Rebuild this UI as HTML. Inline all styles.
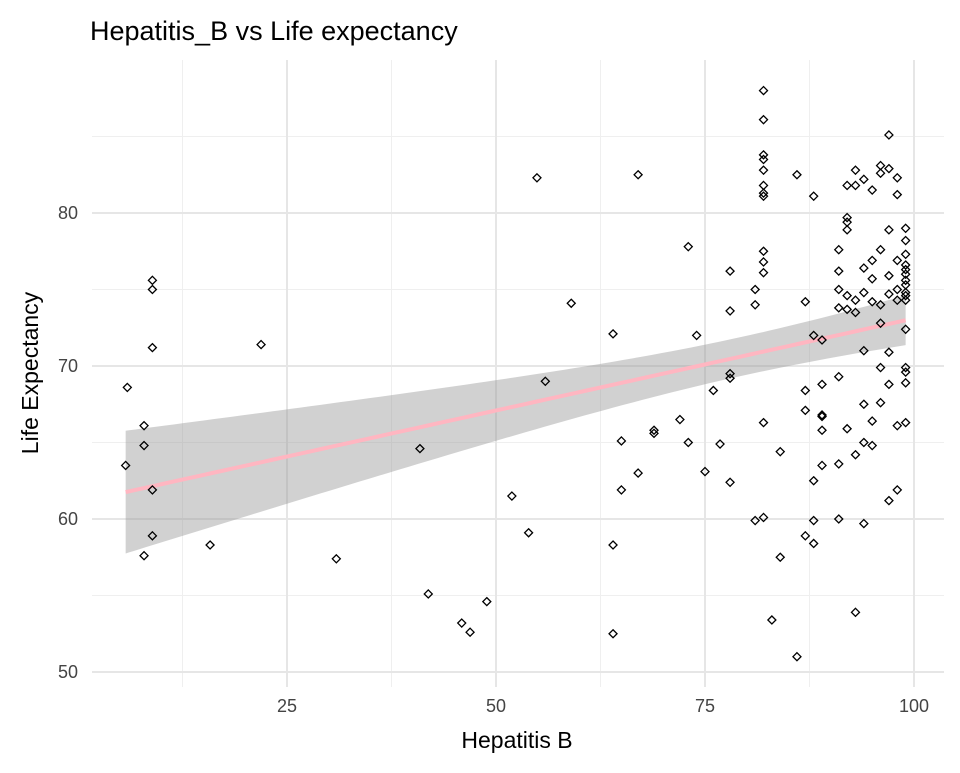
<!DOCTYPE html>
<html><head><meta charset="utf-8"><style>
body{margin:0;background:#fff;font-family:"Liberation Sans",sans-serif}
</style></head><body>
<svg id="chart" width="960" height="768" xmlns="http://www.w3.org/2000/svg" font-family="Liberation Sans, sans-serif">
<text x="90" y="40" font-size="27" fill="#000">Hepatitis_B vs Life expectancy</text>
<g id="grid"></g><g id="band"></g><g id="pts"></g><g id="axes"></g>
<text x="517" y="748" font-size="23" text-anchor="middle">Hepatitis B</text>
<text transform="translate(38,373) rotate(-90)" font-size="23" text-anchor="middle">Life Expectancy</text>
</svg>
<script>
const xTicks=[25,50,75,100];
const xMinor=[12.5,37.5,62.5,87.5];
const yTicks=[50,60,70,80];
const yMinor=[55,65,75,85];
const hepB=[5.9,5.7,7.9,7.9,7.9,8.9,8.9,8.9,8.9,8.9,15.8,21.9,30.9,40.9,41.9,45.9,46.9,48.9,51.9,53.9,54.9,55.9,59,64,64,64,65,65,67,67,68.9,68.9,72,73,73,74,75,76,76.8,78,78,78,78,78,81,81,81,82,82,82,82,82,82,82,82,82,82,82,82,82,83,84,84,86,86,87,87,87,87,88,88,88,88,88,89,89,89,89,89,89,91,91,91,91,91,91,91,92,92,92,92,92,92,92,93,93,93,93,93,93,94,94,94,94,94,94,94,95,95,95,95,95,95,96,96,96,96,96,96,97,97,97,97,97,97,97,98,98,98,98,98,98,99,99,99,99,99,99,99,99,99,99,99,99,99,99,99,99,98,97,96];
const lifeExp=[68.6,63.5,66.1,64.8,57.6,75.6,75.0,71.2,61.9,58.9,58.3,71.4,57.4,64.6,55.1,53.2,52.6,54.6,61.5,59.1,82.3,69.0,74.1,72.1,58.3,52.5,65.1,61.9,82.5,63.0,65.8,65.6,66.5,77.8,65.0,72.0,63.1,68.4,64.9,76.2,73.6,69.5,69.2,62.4,75.0,74.0,59.9,88.0,86.1,83.8,83.5,82.8,81.8,81.3,81.1,77.5,76.8,76.1,66.3,60.1,53.4,64.4,57.5,82.5,51.0,74.2,68.4,67.1,58.9,81.1,72.0,62.5,59.9,58.4,71.7,68.8,66.8,66.7,65.8,63.5,77.6,76.2,75.0,73.8,69.3,63.6,60.0,81.8,79.7,79.4,78.9,74.6,73.7,65.9,82.8,81.8,74.3,73.5,64.2,53.9,82.2,76.4,74.8,71.0,67.5,65.0,59.7,81.5,76.9,75.7,74.2,66.4,64.8,83.1,82.6,77.6,72.8,69.9,67.6,85.1,82.9,78.9,75.9,70.9,68.8,61.2,82.3,81.2,76.9,74.3,66.1,61.9,79.0,78.2,77.3,76.6,76.0,75.3,74.8,74.3,72.4,69.9,69.6,68.9,66.3,75.6,74.6,76.3,75.0,74.7,74.0];
const L=92,R=944,T=60,B=687;
const X=v=>78+v*8.36, Y=v=>213-(v-80)*15.3;
const NS="http://www.w3.org/2000/svg";
function mk(t,a,p){const e=document.createElementNS(NS,t);for(const k in a)e.setAttribute(k,a[k]);p.appendChild(e);return e;}
const grid=document.getElementById('grid'),axes=document.getElementById('axes');
xMinor.forEach(v=>{const l=mk('line',{x1:X(v),x2:X(v),y1:T,y2:B,stroke:'#efefef','stroke-width':1},grid);

});
yMinor.forEach(v=>{const l=mk('line',{x1:L,x2:R,y1:Y(v),y2:Y(v),stroke:'#efefef','stroke-width':1},grid);

});
xTicks.forEach(v=>{const l=mk('line',{x1:X(v),x2:X(v),y1:T,y2:B,stroke:'#e6e6e6','stroke-width':2},grid);


const t=mk('text',{x:X(v),y:712,'font-size':18,fill:'#444','text-anchor':'middle'},axes);t.textContent=v;

});
yTicks.forEach(v=>{const l=mk('line',{x1:L,x2:R,y1:Y(v),y2:Y(v),stroke:'#e6e6e6','stroke-width':2},grid);


const t=mk('text',{x:78,y:Y(v)+6,'font-size':18,fill:'#444','text-anchor':'end'},axes);t.textContent=v;

});
const n=hepB.length,mx=hepB.reduce((a,b)=>a+b)/n,my=lifeExp.reduce((a,b)=>a+b)/n;
let sxx=0,sxy=0;for(let i=0;i<n;i++){sxx+=(hepB[i]-mx)**2;sxy+=(hepB[i]-mx)*(lifeExp[i]-my);}
const b1=sxy/sxx,b0=my-b1*mx;let sse=0;for(let i=0;i<n;i++)sse+=(lifeExp[i]-b0-b1*hepB[i])**2;
const s=Math.sqrt(sse/(n-2));
const x0=Math.min(...hepB),x1=Math.max(...hepB);const up=[],lo=[],ln=[];
for(let k=0;k<=80;k++){const xv=x0+(x1-x0)*k/80,yv=b0+b1*xv,se=1.976*s*Math.sqrt(1/n+(xv-mx)**2/sxx);
up.push(X(xv)+','+Y(yv+se));lo.unshift(X(xv)+','+Y(yv-se));ln.push(X(xv)+','+Y(yv));}
const band=document.getElementById('band');
const poly=mk('polygon',{points:up.concat(lo).join(' '),fill:'#999','fill-opacity':0.45},band);


const pl=mk('polyline',{points:ln.join(' '),fill:'none',stroke:'#ffb6c1','stroke-width':4},band);


const pts=document.getElementById('pts');
for(let i=0;i<n;i++){const cx=X(hepB[i]),cy=Y(lifeExp[i]),r=4;
const p=mk('polygon',{points:`${cx},${cy-r} ${cx+r},${cy} ${cx},${cy+r} ${cx-r},${cy}`,fill:'none',stroke:'#000','stroke-width':1.3},pts);

}
</script>
</body></html>
